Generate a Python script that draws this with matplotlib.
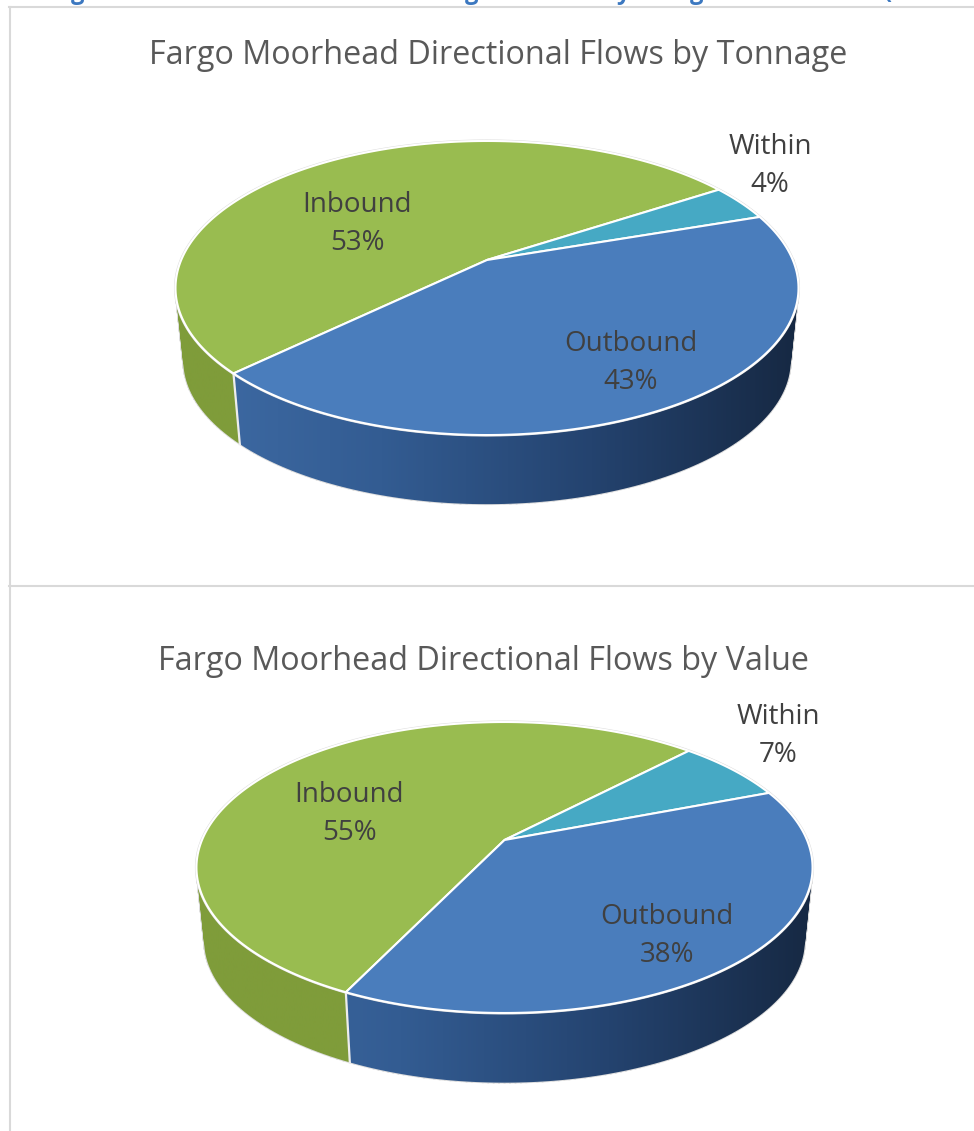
import numpy as np
import matplotlib
matplotlib.use('Agg')
import matplotlib.pyplot as plt
from matplotlib.colors import LinearSegmentedColormap
from matplotlib.patches import PathPatch
from matplotlib.path import Path

plt.rcParams['font.family'] = ['Open Sans', 'DejaVu Sans']

# values
categories = ['Inbound', 'Within', 'Outbound']
tonnage_values = [53, 4, 43]
value_values = [55, 7, 38]
titles = ['Fargo Moorhead Directional Flows by Tonnage',
          'Fargo Moorhead Directional Flows by Value']
clipped_heading = ['g', 'g', 'y', 'g', '(']

colors_top = ['#99BC50', '#46A9C4', '#4A7DBC']
side_maps = [
    LinearSegmentedColormap.from_list('g', ['#7F9C3A', '#7F9C3A', '#7A9638']),
    LinearSegmentedColormap.from_list('t', ['#2F7F96', '#2F7F96']),
    LinearSegmentedColormap.from_list('b', ['#3F6CA6', '#335C92', '#24436F', '#162842']),
]


def project(theta, x0, y0, a, b, k, scale=1.0):
    # circle seen in perspective, so the middle sits above the ellipse centre
    u, v = np.cos(theta), np.sin(theta)
    return x0 + scale * a * u / (1 + k * v), y0 - scale * b * v / (1 + k * v)


def wall_path(th, x0, y0, a, b, k, y_low, scale):
    # one quad per step, all turned the same way so the fold at the sides stays filled
    xt, yt = project(th, x0, y0, a, b, k)
    xb, yb = project(th, x0, y_low, a, b, k, scale)
    verts, codes = [], []
    for j in range(len(th) - 1):
        quad = [(xt[j], yt[j]), (xt[j + 1], yt[j + 1]), (xb[j + 1], yb[j + 1]), (xb[j], yb[j])]
        area = sum(quad[n][0] * quad[(n + 1) % 4][1] - quad[(n + 1) % 4][0] * quad[n][1] for n in range(4))
        if area < 0:
            quad = quad[::-1]
        verts += quad + [quad[0]]
        codes += [Path.MOVETO, Path.LINETO, Path.LINETO, Path.LINETO, Path.CLOSEPOLY]
    return Path(verts, codes)


def draw_pie(ax, values, start, x0, y0, a, b, k, y_low, scale):
    angles = start - np.cumsum([0] + values) * 3.6
    spans = []
    for i in range(len(values)):
        spans.append(np.radians(np.linspace(angles[i], angles[i + 1], 160)))

    # side wall first, the top covers whatever is behind it
    for i, th in enumerate(spans):
        path = wall_path(th, x0, y0, a, b, k, y_low, scale)
        ax.add_patch(PathPatch(path, fc='#DEDEDE', ec='#DEDEDE', lw=1.3, zorder=1.5))
        patch = PathPatch(path, fc='none', ec='none')
        ax.add_patch(patch)
        grad = np.linspace(0, 1, 256).reshape(1, -1)
        im = ax.imshow(grad, cmap=side_maps[i], aspect='auto', zorder=2,
                       extent=[x0 - a * 1.03, x0 + a * 1.03, y_low + b * 1.4, y0 - b])
        im.set_clip_path(patch)

    # white break between green and blue on the wall
    for th in spans:
        xt, yt = project(th[0], x0, y0, a, b, k)
        xb, yb = project(th[0], x0, y_low, a, b, k, scale)
        if yt > y0:
            ax.plot([xt, xb], [yt, yb], color='#EDEDED', lw=1.6, zorder=3)

    all_th = np.radians(np.linspace(0, 360, 500))
    xt, yt = project(all_th, x0, y0, a, b, k)
    ax.plot(xt, yt, color='#DEDEDE', lw=2.2, zorder=3.5)
    for i, th in enumerate(spans):
        xt, yt = project(th, x0, y0, a, b, k)
        ax.fill(np.r_[x0, xt], np.r_[y0, yt], fc=colors_top[i], ec='white',
                lw=1.5, joinstyle='miter', zorder=4)


fig = plt.figure(figsize=(9.74, 11.31), dpi=100)
ax = fig.add_axes([0, 0, 1, 1])

draw_pie(ax, tonnage_values, 224.0, 487, 260, 305.8, 141.7, 0.1905, 333.5, 0.975)
draw_pie(ax, value_values, 244.2, 504.5, 840, 302.5, 140.3, 0.189, 914, 0.975)

ax.set_xlim(0, 974)
ax.set_ylim(1131, 0)
ax.axis('off')

# frame of the two charts
ax.plot([9.5, 9.5], [7, 1131], color='#D9D9D9', lw=1.5, zorder=1)
ax.plot([9, 974], [7, 7], color='#D9D9D9', lw=1.5, zorder=1)
ax.plot([9, 974], [586, 586], color='#D9D9D9', lw=1.5, zorder=1)

# only the descenders of the heading above are left in the picture
for ch, x in zip(clipped_heading, [78, 472, 623, 697, 888]):
    ax.text(x, -1, ch, color='#3C78C0', fontsize=17, fontweight='bold',
            ha='center', va='baseline', clip_on=True)

ax.text(498, 55, titles[0], color='#595959', fontsize=23.3, ha='center', va='center')
ax.text(484, 662, titles[1], color='#595959', fontsize=23.3, ha='center', va='center')

label_pos = [[(357, 224), (770, 166), (631, 363)],
             [(349, 814), (778, 736), (667, 936)]]
for vals, pos in zip([tonnage_values, value_values], label_pos):
    for name, val, (x, y) in zip(categories, vals, pos):
        ax.text(x, y, f'{name}\n{val}%', color='#404040', fontsize=20, ha='center',
                va='center', linespacing=1.5, zorder=6)

fig.savefig('out.png', dpi=100)
